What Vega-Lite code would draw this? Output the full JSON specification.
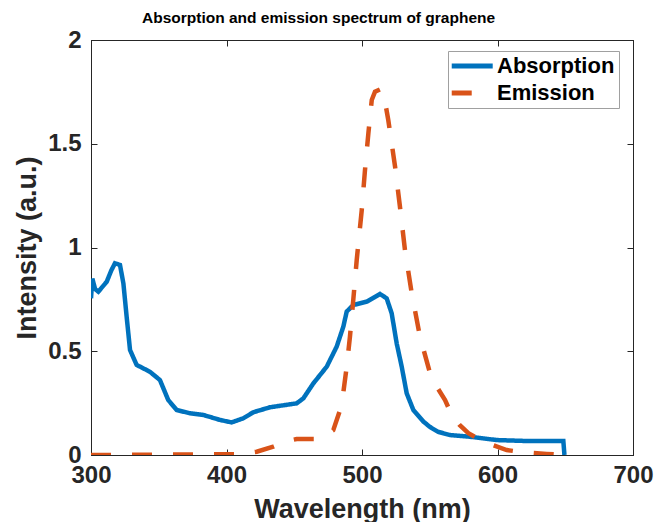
{
  "$schema": "https://vega.github.io/schema/vega-lite/v6.json",
  "autosize": {"type": "none"},
  "padding": {"left": 91, "top": 40, "right": 21, "bottom": 67},
  "width": 542,
  "height": 415,
  "background": "white",
  "title": {
    "text": "Absorption and emission spectrum of graphene",
    "anchor": "start",
    "frame": "group",
    "dx": 51,
    "offset": 2,
    "font": "Liberation Sans",
    "fontSize": 15.5,
    "fontWeight": "bold",
    "color": "#000000"
  },
  "config": {
    "font": "Liberation Sans",
    "view": {"stroke": "#262626", "strokeWidth": 1},
    "axis": {
      "grid": false,
      "domainColor": "#262626",
      "tickColor": "#262626",
      "labelColor": "#262626",
      "titleColor": "#262626",
      "labelFont": "Liberation Sans",
      "titleFont": "Liberation Sans",
      "labelFontWeight": "bold",
      "titleFontWeight": "bold",
      "labelFontSize": 24,
      "titleFontSize": 27,
      "tickSize": -6,
      "tickWidth": 1
    },
    "legend": {
      "labelFont": "Liberation Sans",
      "labelFontSize": 22,
      "labelFontWeight": "bold",
      "labelColor": "#000000"
    }
  },
  "data": {"values": [
    {"wl": 300, "v": 0.755, "s": "Absorption"},
    {"wl": 301, "v": 0.85, "s": "Absorption"},
    {"wl": 303, "v": 0.80, "s": "Absorption"},
    {"wl": 305.4, "v": 0.787, "s": "Absorption"},
    {"wl": 311.6, "v": 0.835, "s": "Absorption"},
    {"wl": 315, "v": 0.89, "s": "Absorption"},
    {"wl": 317.7, "v": 0.924, "s": "Absorption"},
    {"wl": 321.4, "v": 0.916, "s": "Absorption"},
    {"wl": 323.9, "v": 0.827, "s": "Absorption"},
    {"wl": 326.3, "v": 0.667, "s": "Absorption"},
    {"wl": 328.8, "v": 0.506, "s": "Absorption"},
    {"wl": 333.7, "v": 0.434, "s": "Absorption"},
    {"wl": 343.5, "v": 0.401, "s": "Absorption"},
    {"wl": 350.9, "v": 0.361, "s": "Absorption"},
    {"wl": 357, "v": 0.265, "s": "Absorption"},
    {"wl": 363.2, "v": 0.217, "s": "Absorption"},
    {"wl": 373, "v": 0.201, "s": "Absorption"},
    {"wl": 382.9, "v": 0.193, "s": "Absorption"},
    {"wl": 395.2, "v": 0.169, "s": "Absorption"},
    {"wl": 403.8, "v": 0.157, "s": "Absorption"},
    {"wl": 412.4, "v": 0.177, "s": "Absorption"},
    {"wl": 419.8, "v": 0.206, "s": "Absorption"},
    {"wl": 432.1, "v": 0.23, "s": "Absorption"},
    {"wl": 451.8, "v": 0.249, "s": "Absorption"},
    {"wl": 456.7, "v": 0.273, "s": "Absorption"},
    {"wl": 464.1, "v": 0.345, "s": "Absorption"},
    {"wl": 474, "v": 0.426, "s": "Absorption"},
    {"wl": 481.3, "v": 0.522, "s": "Absorption"},
    {"wl": 486.2, "v": 0.618, "s": "Absorption"},
    {"wl": 488.7, "v": 0.691, "s": "Absorption"},
    {"wl": 493.6, "v": 0.723, "s": "Absorption"},
    {"wl": 503.5, "v": 0.739, "s": "Absorption"},
    {"wl": 513.3, "v": 0.776, "s": "Absorption"},
    {"wl": 518.2, "v": 0.755, "s": "Absorption"},
    {"wl": 521.9, "v": 0.683, "s": "Absorption"},
    {"wl": 525.6, "v": 0.538, "s": "Absorption"},
    {"wl": 529.3, "v": 0.426, "s": "Absorption"},
    {"wl": 533, "v": 0.297, "s": "Absorption"},
    {"wl": 537.9, "v": 0.217, "s": "Absorption"},
    {"wl": 545.3, "v": 0.161, "s": "Absorption"},
    {"wl": 550.2, "v": 0.135, "s": "Absorption"},
    {"wl": 556, "v": 0.112, "s": "Absorption"},
    {"wl": 565, "v": 0.096, "s": "Absorption"},
    {"wl": 579.7, "v": 0.088, "s": "Absorption"},
    {"wl": 599.4, "v": 0.072, "s": "Absorption"},
    {"wl": 624, "v": 0.067, "s": "Absorption"},
    {"wl": 648.6, "v": 0.067, "s": "Absorption"},
    {"wl": 649.4, "v": 0.0, "s": "Absorption"},
    {"wl": 300, "v": 0, "s": "Emission"},
    {"wl": 410, "v": 0.004, "s": "Emission"},
    {"wl": 422.3, "v": 0.016, "s": "Emission"},
    {"wl": 434.5, "v": 0.04, "s": "Emission"},
    {"wl": 445, "v": 0.068, "s": "Emission"},
    {"wl": 451.8, "v": 0.077, "s": "Emission"},
    {"wl": 465, "v": 0.077, "s": "Emission"},
    {"wl": 472, "v": 0.09, "s": "Emission"},
    {"wl": 478.8, "v": 0.12, "s": "Emission"},
    {"wl": 483.8, "v": 0.217, "s": "Emission"},
    {"wl": 486.2, "v": 0.3, "s": "Emission"},
    {"wl": 488.6, "v": 0.42, "s": "Emission"},
    {"wl": 491.1, "v": 0.57, "s": "Emission"},
    {"wl": 493.6, "v": 0.75, "s": "Emission"},
    {"wl": 496.1, "v": 0.94, "s": "Emission"},
    {"wl": 499.8, "v": 1.18, "s": "Emission"},
    {"wl": 502.2, "v": 1.373, "s": "Emission"},
    {"wl": 504.7, "v": 1.55, "s": "Emission"},
    {"wl": 507.2, "v": 1.711, "s": "Emission"},
    {"wl": 509.6, "v": 1.751, "s": "Emission"},
    {"wl": 513.3, "v": 1.762, "s": "Emission"},
    {"wl": 515.7, "v": 1.751, "s": "Emission"},
    {"wl": 519.4, "v": 1.614, "s": "Emission"},
    {"wl": 524.4, "v": 1.39, "s": "Emission"},
    {"wl": 528, "v": 1.197, "s": "Emission"},
    {"wl": 531.7, "v": 0.988, "s": "Emission"},
    {"wl": 536.7, "v": 0.779, "s": "Emission"},
    {"wl": 542.8, "v": 0.57, "s": "Emission"},
    {"wl": 550.2, "v": 0.394, "s": "Emission"},
    {"wl": 556, "v": 0.32, "s": "Emission"},
    {"wl": 561.3, "v": 0.265, "s": "Emission"},
    {"wl": 566.2, "v": 0.193, "s": "Emission"},
    {"wl": 572, "v": 0.145, "s": "Emission"},
    {"wl": 578.5, "v": 0.105, "s": "Emission"},
    {"wl": 589.6, "v": 0.064, "s": "Emission"},
    {"wl": 606.8, "v": 0.024, "s": "Emission"},
    {"wl": 619, "v": 0.013, "s": "Emission"},
    {"wl": 636.3, "v": 0.005, "s": "Emission"},
    {"wl": 649.8, "v": 0, "s": "Emission"}
  ]},
  "layer": [
    {
      "mark": {"type": "line", "strokeWidth": 4.5, "strokeCap": "butt", "clip": true},
      "encoding": {
        "x": {"field": "wl", "type": "quantitative",
              "scale": {"domain": [300, 700], "nice": false, "zero": false},
              "axis": {"title": "Wavelength (nm)", "orient": "bottom", "values": [300, 400, 500, 600, 700],
                       "format": "d", "labelPadding": 14, "titlePadding": 9, "labelFlush": false}},
        "y": {"field": "v", "type": "quantitative",
              "scale": {"domain": [0, 2], "nice": false},
              "axis": {"title": "Intensity (a.u.)", "orient": "left", "values": [0, 0.5, 1, 1.5, 2],
                       "format": "~g", "labelPadding": 16, "titlePadding": 6, "labelFlush": false}},
        "color": {"field": "s", "type": "nominal",
                  "scale": {"domain": ["Absorption", "Emission"], "range": ["#0072BD", "#D95319"]},
                  "legend": {"title": null, "orient": "none", "legendX": 357, "legendY": 11,
                             "symbolType": "M-2.2,0H5.8", "symbolSize": 105, "symbolStrokeWidth": 5,
                             "fillColor": "white", "strokeColor": "#a0a0a0", "padding": 4,
                             "labelOffset": 23, "rowPadding": 5}},
        "strokeDash": {"field": "s", "type": "nominal",
                       "scale": {"domain": ["Absorption", "Emission"], "range": [[1, 0], [20, 21]]},
                       "legend": null}
      }
    },
    {
      "mark": {"type": "line", "opacity": 0},
      "encoding": {
        "x": {"field": "wl", "type": "quantitative",
              "axis": {"orient": "top", "title": null, "labels": false, "values": [300, 400, 500, 600, 700]}},
        "y": {"field": "v", "type": "quantitative",
              "axis": {"orient": "right", "title": null, "labels": false, "values": [0, 0.5, 1, 1.5, 2]}}
      }
    }
  ],
  "resolve": {"axis": {"x": "independent", "y": "independent"}}
}
